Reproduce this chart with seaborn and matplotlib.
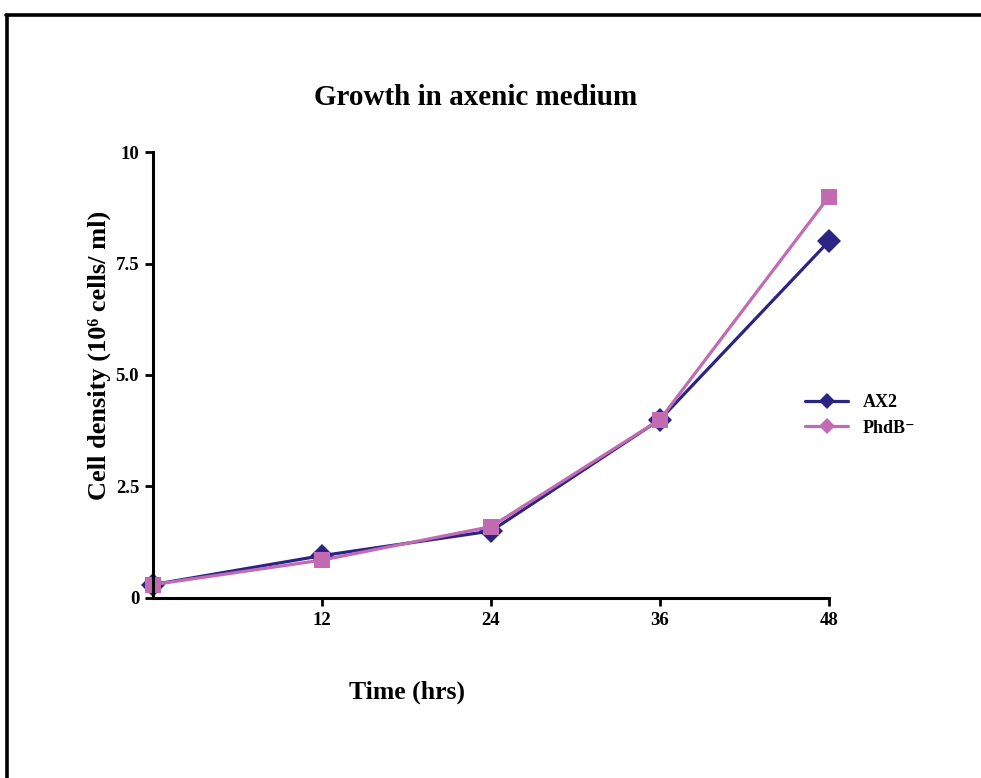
import pandas as pd
import matplotlib
matplotlib.use("Agg")
import matplotlib.pyplot as plt
from matplotlib.lines import Line2D
import seaborn as sns

# values
time_hrs = [0, 12, 24, 36, 48]
ax2_density = [0.3, 0.95, 1.5, 4.0, 8.0]
phdb_density = [0.3, 0.85, 1.6, 4.0, 9.0]
strains = ["AX2", "PhdB\u207b"]
x_ticks = [12, 24, 36, 48]
y_ticks = [0, 2.5, 5.0, 7.5, 10]
y_tick_labels = ["0", "2.5", "5.0", "7.5", "10"]

colors = {"AX2": "#2b2485", "PhdB\u207b": "#c36bb2"}
markers = {"AX2": "D", "PhdB\u207b": "s"}

df = pd.concat([
    pd.DataFrame({"time": time_hrs, "density": ax2_density, "strain": strains[0]}),
    pd.DataFrame({"time": time_hrs, "density": phdb_density, "strain": strains[1]}),
])

sns.set_style("white")
plt.rcParams["font.family"] = ["Liberation Serif", "DejaVu Serif"]
plt.rcParams["font.weight"] = "bold"
for key in ["text.color", "axes.labelcolor", "xtick.color", "ytick.color"]:
    plt.rcParams[key] = "black"

fig = plt.figure(figsize=(9.81, 7.78), dpi=100)
ax = fig.add_axes([0.156, 0.2314, 0.689, 0.5732])

sns.lineplot(data=df, x="time", y="density", hue="strain", style="strain",
             palette=colors, markers=markers, dashes=False, linewidth=2.3,
             markersize=12, markeredgewidth=0, legend=False, ax=ax, clip_on=False)

ax.set_xlim(0, 48)
ax.set_ylim(0, 10)
ax.set_xticks(x_ticks)
ax.set_yticks(y_ticks)
ax.set_yticklabels(y_tick_labels)
ax.tick_params(axis="both", direction="out", length=6, width=2, labelsize=13.5,
               left=True, bottom=True, pad=4)
for lab in ax.get_xticklabels() + ax.get_yticklabels():
    lab.set_fontweight("bold")
sns.despine(ax=ax)
for side in ["left", "bottom"]:
    ax.spines[side].set_linewidth(2.2)
    ax.spines[side].set_color("black")

ax.set_xlabel("Time (hrs)", fontsize=18.5, fontweight="bold")
ax.xaxis.set_label_coords(0.375, -0.185)
ax.set_ylabel("Cell density (10\u2076 cells/ ml)", fontsize=19, fontweight="bold")
ax.yaxis.set_label_coords(-0.062, 0.545)
fig.text(0.485, 0.875, "Growth in axenic medium", ha="center", va="center",
         fontsize=21, fontweight="bold")

handles = [Line2D([], [], color=colors[s], marker="D", markersize=8, linewidth=2.3,
                  markeredgewidth=0) for s in strains]
fig.legend(handles, strains, loc="center left", bbox_to_anchor=(0.804, 0.466),
           frameon=False, handlelength=2.4, labelspacing=0.45,
           prop={"weight": "bold", "size": 13})

# outer frame (left, top, right edges)
fig.add_artist(Line2D([0.007, 0.007], [0.0, 0.981], color="black", linewidth=2.6,
                      transform=fig.transFigure))
fig.add_artist(Line2D([0.006, 1.0], [0.981, 0.981], color="black", linewidth=2.6,
                      transform=fig.transFigure))

fig.savefig("out.png", dpi=100)
